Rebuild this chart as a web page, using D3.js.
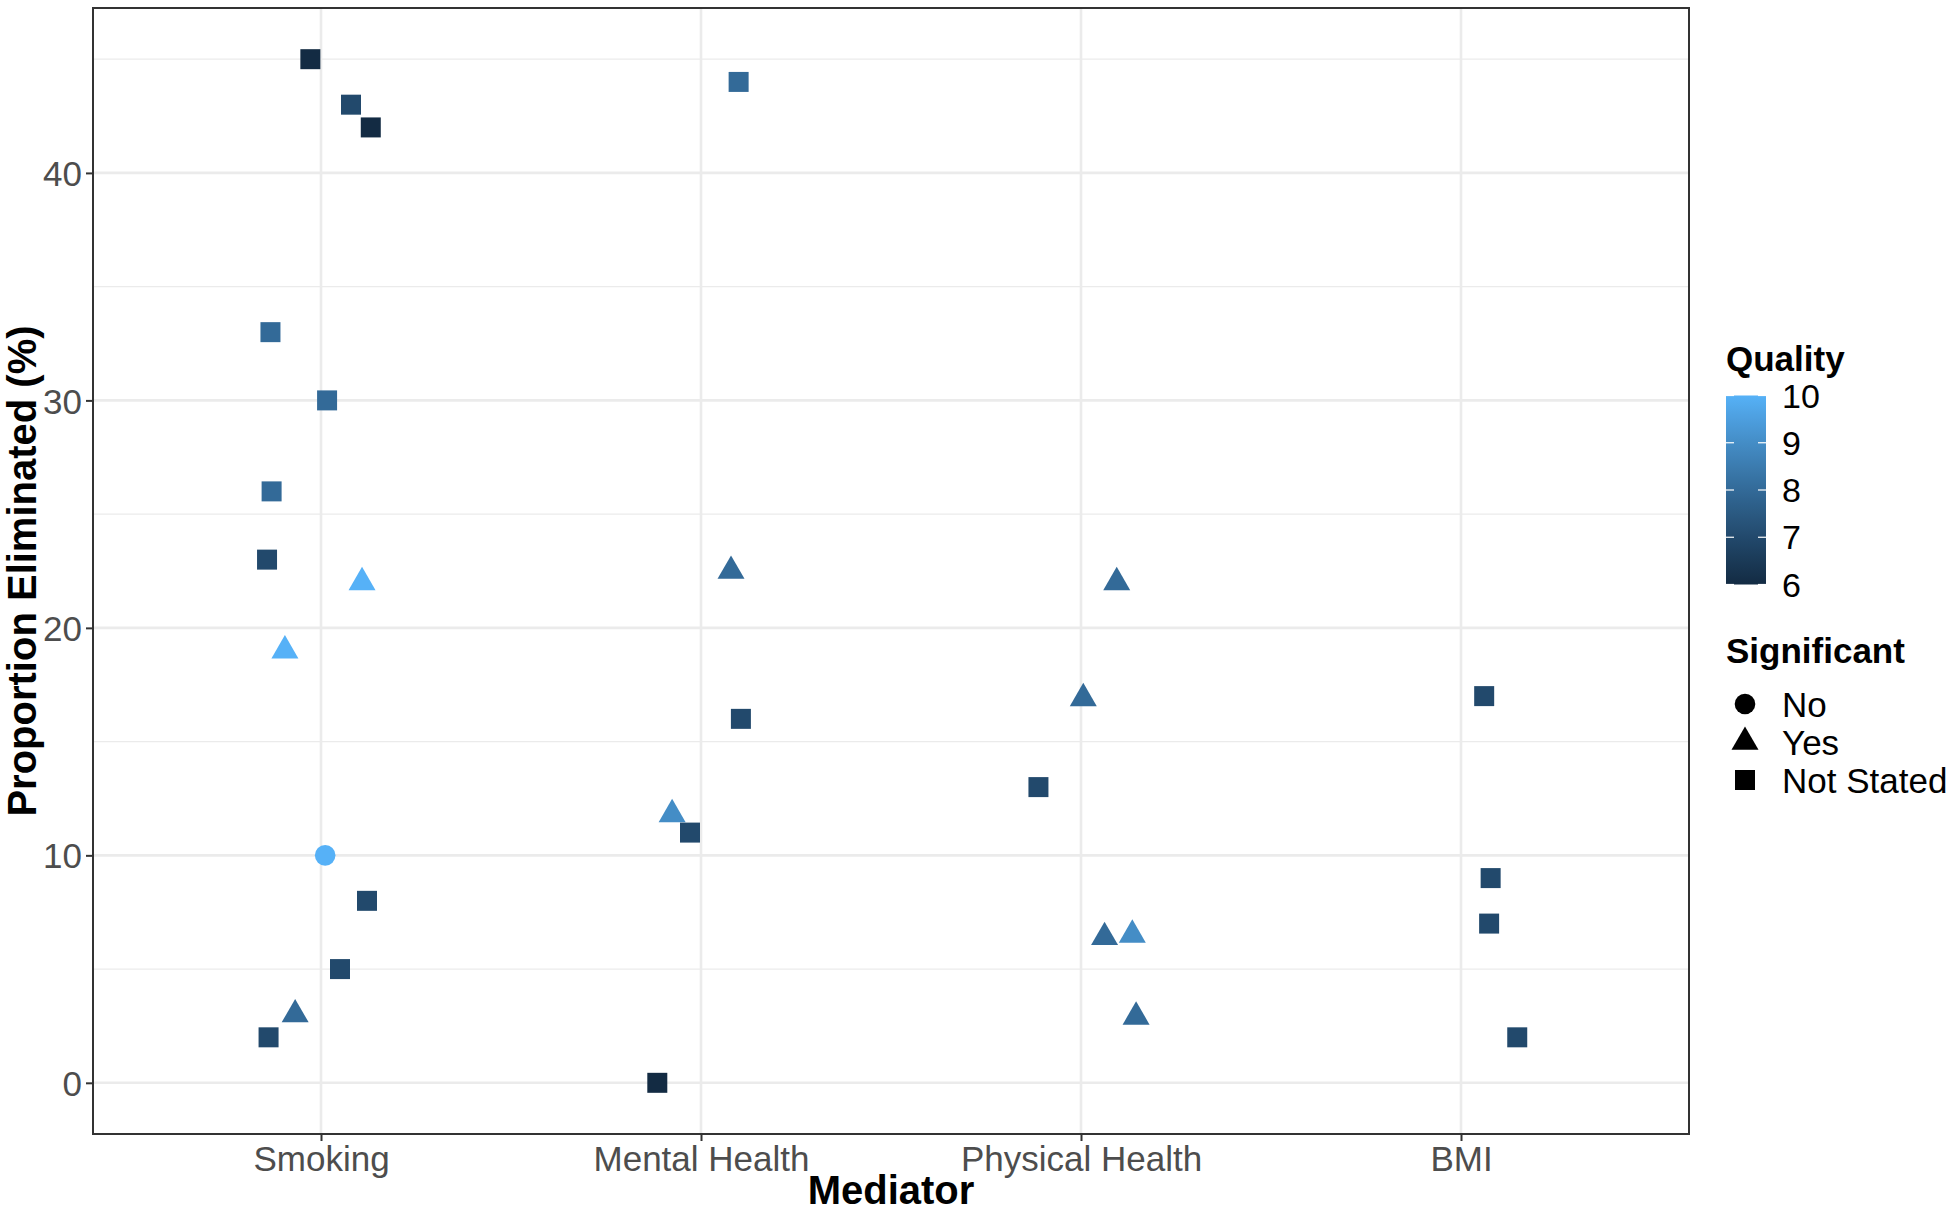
<!DOCTYPE html>
<html>
<head>
<meta charset="utf-8">
<script src="https://cdn.jsdelivr.net/npm/d3@7"></script>
<style>
  html, body { margin: 0; padding: 0; background: #fff; }
  svg { display: block; }
  text { font-family: "Liberation Sans", Arial, Helvetica, sans-serif; }
</style>
</head>
<body>
<svg id="chart" width="1950" height="1212"></svg>
<script>
// ---- Data ----
const categories = ["Smoking", "Mental Health", "Physical Health", "BMI"];
const mediator = [
  "Smoking","Smoking","Smoking","Smoking","Smoking","Smoking","Smoking",
  "Smoking","Smoking","Smoking","Smoking","Smoking","Smoking","Smoking",
  "Mental Health","Mental Health","Mental Health","Mental Health","Mental Health","Mental Health",
  "Physical Health","Physical Health","Physical Health","Physical Health","Physical Health","Physical Health",
  "BMI","BMI","BMI","BMI"
];
const proportion = [
  45, 43, 42, 33, 30, 26, 23, 22, 19, 10, 8, 5, 3, 2,
  44, 22.5, 16, 11.8, 11, 0,
  22, 16.9, 13, 6.4, 6.5, 2.9,
  17, 9, 7, 2
];
const quality = [
  6, 7, 6, 8, 8, 8, 7, 10, 10, 10, 7, 7, 8, 7,
  8, 8, 7, 9, 7, 6,
  8, 8, 7, 8, 9, 8,
  7, 7, 7, 7
];
const significant = [
  "Not Stated","Not Stated","Not Stated","Not Stated","Not Stated","Not Stated","Not Stated",
  "Yes","Yes","No","Not Stated","Not Stated","Yes","Not Stated",
  "Not Stated","Yes","Not Stated","Yes","Not Stated","Not Stated",
  "Yes","Yes","Not Stated","Yes","Yes","Yes",
  "Not Stated","Not Stated","Not Stated","Not Stated"
];
// horizontal jitter, in category-step units
const jitter = [
  -0.028, 0.079, 0.131, -0.133, 0.016, -0.130, -0.142, 0.108, -0.095, 0.011, 0.121, 0.050, -0.068, -0.138,
  0.099, 0.079, 0.105, -0.076, -0.029, -0.115,
  0.094, 0.006, -0.112, 0.062, 0.135, 0.145,
  0.061, 0.078, 0.074, 0.148
];
const yTicks = [0, 10, 20, 30, 40];
const yMinor = [5, 15, 25, 35, 45];
const qualityTicks = [6, 7, 8, 9, 10];
const shapeLevels = ["No", "Yes", "Not Stated"];

const data = proportion.map((v, i) => ({
  mediator: mediator[i], value: v, quality: quality[i], sig: significant[i], jit: jitter[i]
}));

// ---- Layout ----
const svg = d3.select("#chart");
const panel = { left: 93, right: 1689, top: 8, bottom: 1134 };

const x = d3.scalePoint().domain(categories).range([panel.left, panel.right]).padding(0.6);
const yMinV = 0, yMaxV = 45, pad = (yMaxV - yMinV) * 0.05;
const y = d3.scaleLinear().domain([yMinV - pad, yMaxV + pad]).range([panel.bottom, panel.top]);
const color = d3.scaleLinear().domain([6, 10]).range(["#132B43", "#56B1F7"]).interpolate(d3.interpolateLab);

const gridColor = "#EBEBEB";
// minor grid
svg.append("g").selectAll("line").data(yMinor).join("line")
  .attr("x1", panel.left).attr("x2", panel.right)
  .attr("y1", d => y(d)).attr("y2", d => y(d))
  .attr("stroke", gridColor).attr("stroke-width", 1.3);
// major grid
svg.append("g").selectAll("line").data(yTicks).join("line")
  .attr("x1", panel.left).attr("x2", panel.right)
  .attr("y1", d => y(d)).attr("y2", d => y(d))
  .attr("stroke", gridColor).attr("stroke-width", 2.6);
svg.append("g").selectAll("line").data(categories).join("line")
  .attr("x1", d => x(d)).attr("x2", d => x(d))
  .attr("y1", panel.top).attr("y2", panel.bottom)
  .attr("stroke", gridColor).attr("stroke-width", 2.6);

// ---- Points ----
const shapeGen = {
  "No": d3.symbol().type(d3.symbolCircle).size(Math.PI * 10.3 * 10.3),
  "Yes": d3.symbol().type(d3.symbolTriangle).size(27 * 27 * Math.sqrt(3) / 4),
  "Not Stated": d3.symbol().type(d3.symbolSquare).size(20 * 20)
};
svg.append("g").selectAll("path").data(data).join("path")
  .attr("d", d => shapeGen[d.sig]())
  .attr("transform", d => `translate(${x(d.mediator) + d.jit * x.step()},${y(d.value)})`)
  .attr("fill", d => color(d.quality));

// ---- Panel border ----
svg.append("rect")
  .attr("x", panel.left).attr("y", panel.top)
  .attr("width", panel.right - panel.left).attr("height", panel.bottom - panel.top)
  .attr("fill", "none").attr("stroke", "#333333").attr("stroke-width", 2);

// ---- Axes ----
const axisText = "#4D4D4D";
const yAxis = svg.append("g").attr("transform", `translate(${panel.left},0)`)
  .call(d3.axisLeft(y).tickValues(yTicks).tickSize(7).tickPadding(4));
yAxis.select(".domain").remove();
yAxis.selectAll(".tick line").attr("stroke", "#333333").attr("stroke-width", 2);
yAxis.selectAll(".tick text").attr("fill", axisText).style("font-size", "35px")
  .attr("font-family", null).attr("dy", "0.36em");

const xAxis = svg.append("g").attr("transform", `translate(0,${panel.bottom})`)
  .call(d3.axisBottom(x).tickSize(7).tickPadding(4));
xAxis.select(".domain").remove();
xAxis.selectAll(".tick line").attr("stroke", "#333333").attr("stroke-width", 2);
xAxis.selectAll(".tick text").attr("fill", axisText).style("font-size", "35px")
  .attr("font-family", null).attr("dy", null).attr("y", 37);

// axis titles
svg.append("text").attr("x", (panel.left + panel.right) / 2).attr("y", 1204)
  .attr("text-anchor", "middle").style("font-size", "40px").style("font-weight", "bold")
  .attr("fill", "#000").text("Mediator");
svg.append("text").attr("transform", `translate(36,${(panel.top + panel.bottom) / 2}) rotate(-90)`)
  .attr("text-anchor", "middle").style("font-size", "40px").style("font-weight", "bold")
  .attr("fill", "#000").text("Proportion Eliminated (%)");

// ---- Legend: Quality colorbar ----
const lg = svg.append("g");
const lgX = 1726;
lg.append("text").attr("x", lgX).attr("y", 371).style("font-size", "35px").style("font-weight", "bold")
  .attr("fill", "#000").text("Quality");

const barTop = 395.5, barBottom = 584.5, barW = 40;
const qy = d3.scaleLinear().domain([6, 10]).range([barBottom, barTop]);
const defs = svg.append("defs");
const grad = defs.append("linearGradient").attr("id", "qgrad")
  .attr("x1", 0).attr("y1", 1).attr("x2", 0).attr("y2", 0);
d3.range(0, 1.0001, 0.05).forEach(t => {
  grad.append("stop").attr("offset", t).attr("stop-color", color(6 + 4 * t));
});
lg.append("rect").attr("x", lgX).attr("y", barTop).attr("width", barW).attr("height", barBottom - barTop)
  .attr("fill", "url(#qgrad)");
lg.selectAll(".ctl").data(qualityTicks).join("line").attr("class", "ctl")
  .attr("x1", lgX).attr("x2", lgX + 8).attr("y1", d => qy(d)).attr("y2", d => qy(d))
  .attr("stroke", "#fff").attr("stroke-width", 1.2);
lg.selectAll(".ctr").data(qualityTicks).join("line").attr("class", "ctr")
  .attr("x1", lgX + barW - 8).attr("x2", lgX + barW).attr("y1", d => qy(d)).attr("y2", d => qy(d))
  .attr("stroke", "#fff").attr("stroke-width", 1.2);
lg.selectAll(".clab").data(qualityTicks).join("text").attr("class", "clab")
  .attr("x", 1782).attr("y", d => qy(d)).attr("dy", "0.36em")
  .style("font-size", "34px").attr("fill", "#000").text(d => d);

// ---- Legend: Significant shapes ----
lg.append("text").attr("x", lgX).attr("y", 663).style("font-size", "35px").style("font-weight", "bold")
  .attr("fill", "#000").text("Significant");
const shapeY = d3.scalePoint().domain(shapeLevels).range([704, 780]);
lg.selectAll(".sk").data(shapeLevels).join("path").attr("class", "sk")
  .attr("d", d => shapeGen[d]())
  .attr("transform", d => `translate(1745,${shapeY(d)})`)
  .attr("fill", "#000");
lg.selectAll(".sl").data(shapeLevels).join("text").attr("class", "sl")
  .attr("x", 1782).attr("y", d => shapeY(d)).attr("dy", "0.36em")
  .style("font-size", "35px").attr("fill", "#000").text(d => d);
</script>
</body>
</html>
